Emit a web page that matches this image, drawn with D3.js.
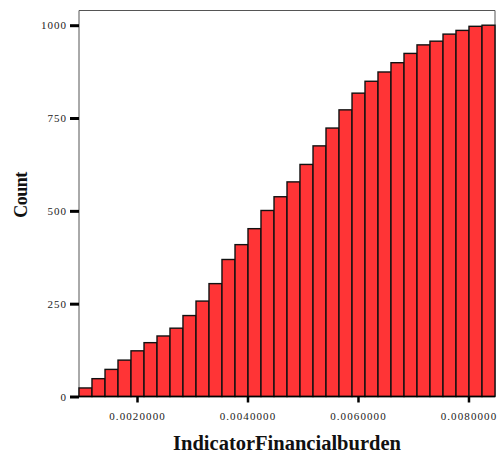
<!DOCTYPE html>
<html>
<head>
<meta charset="utf-8">
<script src="https://cdn.jsdelivr.net/npm/d3@7"></script>
<style>
  body { margin: 0; background: #fff; }
  svg { display: block; font-family: "Liberation Serif", "DejaVu Serif", serif; }
</style>
</head>
<body>
<div id="chart-container"></div>
<script>
const binEdges = [
    0.000950, 0.001185, 0.001421, 0.001656, 0.001891, 0.002127, 0.002362, 0.002597,
    0.002832, 0.003068, 0.003303, 0.003538, 0.003774, 0.004009, 0.004244, 0.004480,
    0.004715, 0.004950, 0.005186, 0.005421, 0.005656, 0.005892, 0.006127, 0.006362,
    0.006597, 0.006833, 0.007068, 0.007303, 0.007539, 0.007774, 0.008009, 0.008245,
    0.008480
];
const cumulativeCounts = [
    23, 48, 73, 98, 123, 145, 163, 184, 218, 257, 304, 369, 409, 452, 501, 538,
    578, 625, 675, 723, 772, 817, 849, 874, 899, 924, 947, 957, 976, 986, 997, 1000
];
const xTicks = [0.002, 0.004, 0.006, 0.008];
const yTicks = [0, 250, 500, 750, 1000];
const xTitle = "IndicatorFinancialburden";
const yTitle = "Count";

const width = 498, height = 455;
const plotLeft = 79, plotRight = 495, plotTop = 10.5, plotBottom = 396.5;

const svg = d3.select("#chart-container").append("svg")
    .attr("width", width)
    .attr("height", height);

const x = d3.scaleLinear()
    .domain([binEdges[0], binEdges[binEdges.length - 1]])
    .range([plotLeft, plotRight]);
const y = d3.scaleLinear()
    .domain([0, 1000])
    .range([plotBottom, 25.2]);

const bins = cumulativeCounts.map((c, i) => ({ x0: binEdges[i], x1: binEdges[i + 1], count: c }));

// frame (top, left, right) in grey
svg.append("path")
    .attr("d", `M${plotLeft},${plotBottom}V${plotTop}H${plotRight}V${plotBottom}`)
    .attr("fill", "none")
    .attr("stroke", "#555")
    .attr("stroke-width", 1);

svg.append("g")
    .selectAll("rect")
    .data(bins)
    .join("rect")
    .attr("x", d => x(d.x0))
    .attr("y", d => y(d.count))
    .attr("width", d => x(d.x1) - x(d.x0))
    .attr("height", d => plotBottom - y(d.count))
    .attr("fill", "#ff3436")
    .attr("stroke", "#111")
    .attr("stroke-width", 1.4);

// bottom axis line
svg.append("line")
    .attr("x1", plotLeft).attr("x2", plotRight)
    .attr("y1", plotBottom).attr("y2", plotBottom)
    .attr("stroke", "#000")
    .attr("stroke-width", 1.5);

// x axis
const xAxis = svg.append("g")
    .attr("transform", `translate(0,${plotBottom})`)
    .call(d3.axisBottom(x).tickValues(xTicks).tickSize(6).tickPadding(10)
        .tickFormat(d => d.toFixed(7)));
xAxis.select(".domain").remove();
xAxis.selectAll(".tick line").attr("stroke", "#000").attr("stroke-width", 2.5);
xAxis.selectAll(".tick text")
    .attr("font-family", "Liberation Serif")
    .attr("font-size", 11)
    .attr("letter-spacing", "1.1px")
    .attr("fill", "#222");

// y axis
const yAxis = svg.append("g")
    .attr("transform", `translate(${plotLeft},0)`)
    .call(d3.axisLeft(y).tickValues(yTicks).tickSize(9).tickPadding(3)
        .tickFormat(d3.format("d")));
yAxis.select(".domain").remove();
yAxis.selectAll(".tick line").attr("stroke", "#000").attr("stroke-width", 3);
yAxis.selectAll(".tick text")
    .attr("font-family", "Liberation Serif")
    .attr("font-size", 11)
    .attr("letter-spacing", "1px")
    .attr("fill", "#222");

svg.append("text")
    .attr("x", (plotLeft + plotRight) / 2)
    .attr("y", 450)
    .attr("text-anchor", "middle")
    .attr("font-size", 20.5)
    .attr("font-weight", "bold")
    .attr("fill", "#111")
    .text(xTitle);

svg.append("text")
    .attr("transform", "translate(27,195) rotate(-90)")
    .attr("text-anchor", "middle")
    .attr("font-size", 18)
    .attr("font-weight", "bold")
    .attr("letter-spacing", "-0.5px")
    .attr("fill", "#111")
    .text(yTitle);
</script>
</body>
</html>
